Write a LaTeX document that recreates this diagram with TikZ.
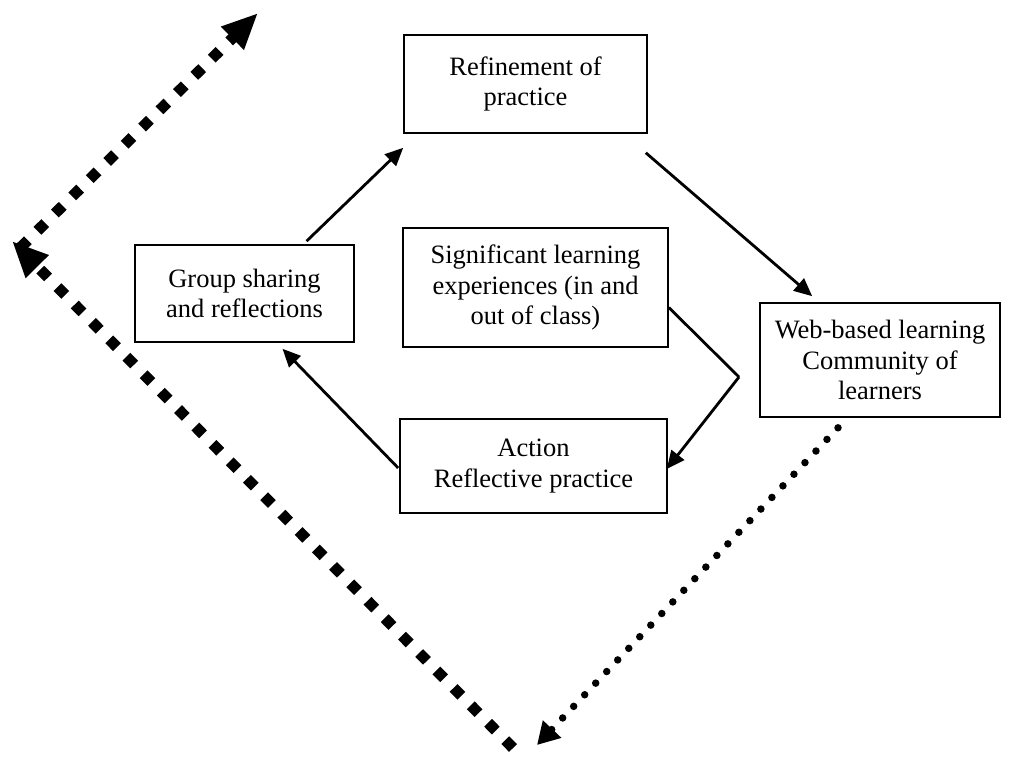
\documentclass[tikz,border=0pt]{standalone}
\usepackage{fontspec}
\setmainfont{Liberation Serif}
\usetikzlibrary{arrows.meta,calc}
\begin{document}
\begin{tikzpicture}[x=1pt,y=-1pt,
  box/.style={draw,line width=1.6pt,rectangle,inner sep=0pt,align=center,
    font=\fontsize{26.5}{30.5}\selectfont},
  conn/.style={line width=2.8pt,-{Triangle[length=18pt,width=16pt]}},
  plain/.style={line width=2.8pt},
  bigdots/.style={line width=11pt,dash pattern=on 11pt off 13.5pt,
    -{Triangle[length=36pt,width=30pt]}},
  smalldots/.style={line width=7.5pt,line cap=round,dash pattern=on 0pt off 16pt,
    -{Triangle[length=22pt,width=24pt]}}]
\useasboundingbox (0,0) rectangle (1036,760);

\node[box,minimum width=243pt,minimum height=98pt] (ref) at (525.5,84) {Refinement of\\practice};
\node[box,minimum width=219pt,minimum height=97pt] (grp) at (244.5,293.5) {Group sharing\\and reflections};
\node[box,minimum width=265pt,minimum height=119pt] (sig) at (535.5,287.5) {Significant learning\\experiences (in and\\out of class)};
\node[box,minimum width=240pt,minimum height=114pt] (web) at (880,360) {Web-based learning\\Community of\\learners};
\node[box,minimum width=267pt,minimum height=94pt] (act) at (533.5,466) {Action\\Reflective practice};

% solid connectors
\coordinate (refin) at ($(ref.south west)+(0,14)$);
\draw[conn] ($(grp.north)+(62,-3)$) -- (refin);
\coordinate (webin) at ($(web.north west)+(53,-6)$);
\draw[conn] ($(ref.south east)+(-2,19)$) -- (webin);
\coordinate (bend) at (739,377);
\draw[plain] ($(sig.east)+(0,20)$) -- (bend);
\draw[conn] (bend) -- ($(act.east)+(-1,3)$);
\coordinate (grpin) at ($(grp.south)+(38,6)$);
\draw[conn] ($(act.west)+(-1,2)$) -- (grpin);

% small dotted arrow
\coordinate (dotend) at (537,745);
\draw[smalldots] ($(web.south)+(-42,10)$) -- (dotend);

% big diamond-dotted arrows
\coordinate (bigbot) at (513,748);
\coordinate (bigleft) at (12,241);
\coordinate (bigstart) at (20,248);
\coordinate (bigtop) at (258,13);
\draw[bigdots] (bigbot) -- (bigleft);
\draw[bigdots] (bigstart) -- (bigtop);
\end{tikzpicture}
\end{document}
